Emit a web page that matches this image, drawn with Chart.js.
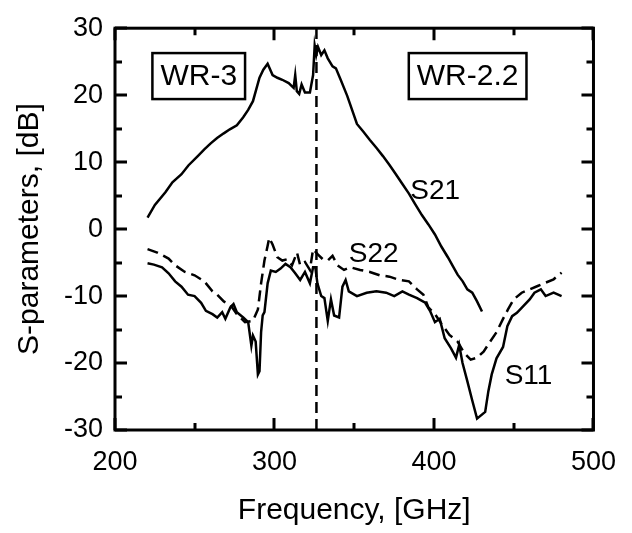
<!DOCTYPE html>
<html>
<head>
<meta charset="utf-8">
<script src="https://cdn.jsdelivr.net/npm/chart.js@4/dist/chart.umd.min.js"></script>
<style>
  html, body { margin: 0; padding: 0; background: #fff; }
  #chart { display: block; }
</style>
</head>
<body>
<canvas id="chart" width="632" height="533"></canvas>
<script>
// S21 (solid, upper curve)
const s21Freq = [220.4, 225, 231.6, 236, 241.7, 246, 251.9, 256, 260, 264, 268.2, 272, 276.4, 280.4, 283.5, 286.5, 290.6, 293, 295.7, 298.8, 301.8, 304.9, 308.9, 312, 313, 314, 315.5, 317, 319.1, 322.2, 324.2, 325.2, 326.2, 327.3, 329.3, 331.3, 333.4, 336.4, 338.5, 341.5, 345.6, 351.7, 355.5, 359.8, 364, 368, 372, 376.1, 380, 384.3, 388, 392.4, 396.5, 400.6, 404.6, 408.7, 412, 414.8, 418, 420.9, 424, 427, 430.1];
const s21Db = [1.7, 3.6, 5.5, 7, 8.2, 9.5, 10.9, 11.9, 12.8, 13.6, 14.3, 14.9, 15.5, 16.7, 17.8, 19.1, 22.6, 23.8, 24.7, 23.0, 22.6, 22.3, 21.8, 21.1, 23.0, 20.6, 20.2, 21.6, 20.4, 20.4, 23.0, 27.4, 26.0, 27.2, 26.0, 26.7, 25.5, 24.3, 24.0, 22.3, 19.9, 15.7, 14.6, 13.3, 12.1, 10.9, 9.6, 8.2, 6.8, 5.3, 3.8, 2.1, 0.7, -0.8, -2.6, -4.2, -5.6, -6.8, -7.8, -9.0, -9.5, -10.8, -12.3];

// S11 (solid, lower curve)
const s11Freq = [220.4, 224.4, 229.5, 233.6, 237.7, 241.7, 245.8, 249.9, 254, 257, 261.1, 264.1, 267.2, 269.2, 272.3, 274.3, 276.4, 280.4, 283.5, 285.5, 286.5, 288.2, 289.6, 290.6, 291.6, 292.6, 293.7, 295.7, 297.7, 300.8, 303.8, 306.9, 310, 313, 316.1, 319.1, 322.2, 324.2, 325.6, 326.9, 329.3, 331.3, 333.4, 335.4, 337.4, 340.5, 342.6, 344.6, 346.6, 351.7, 357.8, 363.9, 370, 375.1, 380.2, 384.3, 389.4, 394.5, 397.5, 400.6, 403.6, 406.7, 410.7, 413.8, 415.8, 417.9, 420.9, 424, 427, 432.1, 434.1, 436.2, 439.2, 443.3, 446, 449, 452, 456, 460, 463, 467, 470, 475, 480];
const s11Db = [-5.1, -5.3, -5.7, -6.6, -7.8, -8.6, -9.8, -10.0, -11.0, -12.2, -12.7, -13.2, -12.4, -13.4, -11.7, -11.2, -12.4, -13.2, -13.9, -17.4, -15.9, -16.8, -21.7, -21.2, -15.4, -12.9, -12.4, -8.1, -6.2, -6.4, -5.9, -5.2, -5.7, -6.6, -7.6, -6.4, -8.1, -5.7, -5.7, -8.1, -10.0, -10.3, -13.7, -10.5, -12.9, -13.2, -8.6, -7.6, -9.3, -10.0, -9.5, -9.3, -9.5, -10.0, -9.3, -9.8, -10.3, -11.0, -12.2, -13.9, -13.4, -16.3, -17.8, -19.2, -17.3, -20.0, -22.7, -25.6, -28.3, -27.3, -24.2, -21.7, -19.3, -17.6, -14.5, -13.0, -12.5, -11.5, -10.5, -9.5, -9.0, -10.0, -9.5, -10.0];

// S22 (dashed)
const s22Freq = [220.4, 226.5, 233.6, 237.7, 243.8, 249.9, 256, 261.1, 264.1, 268.2, 272.3, 276.4, 281.5, 286.5, 289.6, 291.6, 293.7, 295.7, 296.7, 298.8, 301.8, 304.9, 308, 311, 314.1, 316.1, 319.1, 322.2, 324.2, 327.3, 330.3, 333.4, 336.4, 339.5, 343.6, 347.6, 353.7, 359.8, 365.9, 372.1, 378.2, 384.3, 389.4, 393.4, 396.5, 400.6, 404.6, 409.7, 414.8, 418.9, 423, 427, 431.1, 435.2, 439.2, 443.3, 446.4, 450, 455, 460, 465, 470, 475, 480];
const s22Db = [-3.0, -3.5, -4.4, -5.4, -6.4, -6.9, -7.8, -9.3, -9.8, -10.8, -11.3, -12.7, -13.9, -13.7, -12.0, -8.1, -4.7, -2.5, -1.3, -2.3, -4.2, -4.7, -4.5, -5.4, -3.5, -5.4, -4.9, -6.1, -3.0, -3.8, -4.5, -4.7, -4.0, -5.4, -6.1, -5.7, -6.1, -6.4, -6.9, -7.1, -7.6, -7.8, -9.0, -9.8, -11.7, -12.7, -14.1, -15.8, -16.8, -18.5, -19.5, -19.2, -18.3, -16.8, -15.4, -13.4, -12.0, -10.5, -9.5, -9.0, -8.5, -8.0, -7.5, -6.5];

// vertical dashed marker
const markerFreq = 326.3;

// axes
const xMin = 200, xMax = 500, xMajor = 100, xMinor = 50;
const yMin = -30, yMax = 30, yMajor = 10, yMinor = 5;

// text annotations (data coordinates)
const boxLabels = [
  { text: 'WR-3', x: 252.5, y: 22.85 },
  { text: 'WR-2.2', x: 421.1, y: 22.85 }
];
const curveLabels = [
  { text: 'S21', x: 385.1, y: 4.45 },
  { text: 'S22', x: 346.6, y: -4.9 },
  { text: 'S11', x: 444.3, y: -23.1 }
];

const FONT = "'Liberation Sans', Arial, sans-serif";

function toPoints(xs, ys) {
  return xs.map((x, i) => ({ x, y: ys[i] }));
}

function lineSet(data, dash) {
  return {
    data,
    borderColor: '#000',
    borderWidth: 2.5,
    borderDash: dash || [],
    pointRadius: 0,
    showLine: true,
    tension: 0,
    fill: false
  };
}

// frame, inward ticks and text labels
const decorPlugin = {
  id: 'decor',
  afterDatasetsDraw(chart) {
    const { ctx, chartArea: a, scales: { x, y } } = chart;
    ctx.save();
    ctx.strokeStyle = '#000';
    ctx.lineWidth = 3;
    ctx.lineCap = 'butt';

    ctx.beginPath();
    for (let v = xMin; v <= xMax; v += xMinor) {
      const px = Math.round(x.getPixelForValue(v));
      const len = v % xMajor === 0 ? 12 : 7;
      ctx.moveTo(px, a.bottom); ctx.lineTo(px, a.bottom - len);
      ctx.moveTo(px, a.top); ctx.lineTo(px, a.top + len);
    }
    for (let v = yMin; v <= yMax; v += yMinor) {
      const py = Math.round(y.getPixelForValue(v));
      const len = v % yMajor === 0 ? 12 : 7;
      ctx.moveTo(a.left, py); ctx.lineTo(a.left + len, py);
      ctx.moveTo(a.right, py); ctx.lineTo(a.right - len, py);
    }
    ctx.stroke();

    ctx.strokeRect(a.left, a.top, a.right - a.left, a.bottom - a.top);

    // boxed labels
    ctx.fillStyle = '#000';
    ctx.font = '30px ' + FONT;
    ctx.textAlign = 'center';
    ctx.textBaseline = 'middle';
    ctx.lineWidth = 2.5;
    boxLabels.forEach(b => {
      const cx = x.getPixelForValue(b.x);
      const cy = y.getPixelForValue(b.y);
      const w = ctx.measureText(b.text).width + 16;
      const h = 46;
      ctx.fillStyle = '#fff';
      ctx.fillRect(cx - w / 2, cy - h / 2, w, h);
      ctx.strokeRect(cx - w / 2, cy - h / 2, w, h);
      ctx.fillStyle = '#000';
      ctx.fillText(b.text, cx, cy + 1);
    });

    // curve names
    ctx.font = '28px ' + FONT;
    ctx.textAlign = 'left';
    ctx.textBaseline = 'alphabetic';
    curveLabels.forEach(l => {
      ctx.fillText(l.text, x.getPixelForValue(l.x), y.getPixelForValue(l.y));
    });
    ctx.restore();
  }
};

new Chart(document.getElementById('chart'), {
  type: 'scatter',
  data: {
    datasets: [
      lineSet(toPoints(s21Freq, s21Db)),
      lineSet(toPoints(s11Freq, s11Db)),
      lineSet(toPoints(s22Freq, s22Db), [11, 6]),
      lineSet([{ x: markerFreq, y: yMin }, { x: markerFreq, y: yMax }], [11, 6])
    ]
  },
  options: {
    responsive: false,
    animation: false,
    devicePixelRatio: 1,
    layout: { padding: { top: 19, right: 26, left: 0, bottom: 0 } },
    plugins: {
      legend: { display: false },
      tooltip: { enabled: false }
    },
    scales: {
      x: {
        type: 'linear',
        position: 'bottom',
        min: xMin,
        max: xMax,
        grid: { display: false, drawTicks: false },
        border: { display: false },
        ticks: {
          stepSize: xMajor,
          color: '#000',
          padding: 16,
          maxRotation: 0,
          font: { family: FONT, size: 27 }
        },
        title: {
          display: true,
          text: 'Frequency, [GHz]',
          color: '#000',
          font: { family: FONT, size: 30 },
          padding: { top: 0, bottom: 4 }
        },
        afterFit: s => { s.height = 103; }
      },
      y: {
        type: 'linear',
        min: yMin,
        max: yMax,
        grid: { display: false, drawTicks: false },
        border: { display: false },
        ticks: {
          stepSize: yMajor,
          color: '#000',
          padding: 12,
          font: { family: FONT, size: 27 }
        },
        title: {
          display: true,
          text: 'S-parameters, [dB]',
          color: '#000',
          font: { family: FONT, size: 30 },
          padding: { top: 12, bottom: 0 }
        },
        afterFit: s => { s.width = 115; }
      }
    }
  },
  plugins: [decorPlugin]
});
</script>
</body>
</html>
